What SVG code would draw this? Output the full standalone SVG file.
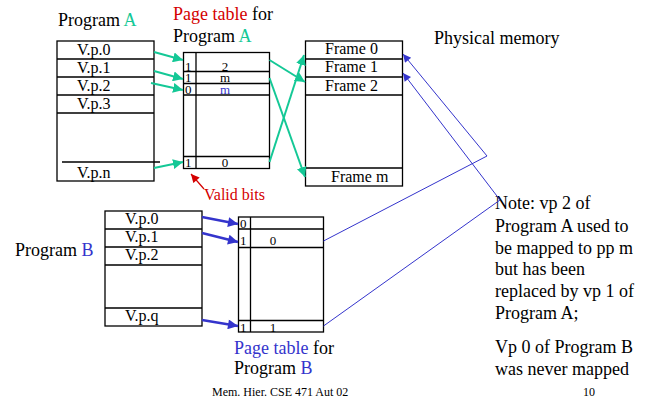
<svg xmlns="http://www.w3.org/2000/svg" width="654" height="402" viewBox="0 0 654 402" font-family="'Liberation Serif', 'DejaVu Serif', serif">
  <style>
    text { font-family: "Liberation Serif", "DejaVu Serif", serif; fill: #000; }
    .lbl { font-size: 18px; }
    .cell { font-size: 16px; }
    .dig { font-size: 13px; }
    .foot { font-size: 12px; }
    .green { fill: #14c896; }
    .red { fill: #d40000; }
    .blue { fill: #3434cc; }
    .box { fill: #fff; stroke: #000; stroke-width: 1.3; }
    .row { stroke: #000; stroke-width: 1.3; fill: none; }
    .ga { stroke: #14c896; stroke-width: 2; fill: none; marker-end: url(#ah-green); }
    .ba { stroke: #3434cc; stroke-width: 2.5; fill: none; marker-end: url(#ah-blue); }
    .bla { stroke: #3434cc; stroke-width: 1; fill: none; marker-end: url(#ah-blue-thin); }
  </style>
  <defs>
    <marker id="ah-green" viewBox="0 0 10 10" refX="10" refY="5" markerWidth="5" markerHeight="5" orient="auto" markerUnits="strokeWidth">
      <path d="M0,0 L10,5 L0,10 z" fill="#14c896"/>
    </marker>
    <marker id="ah-blue" viewBox="0 0 10 10" refX="10" refY="5" markerWidth="4.5" markerHeight="4" orient="auto" markerUnits="strokeWidth">
      <path d="M0,0 L10,5 L0,10 z" fill="#3434cc"/>
    </marker>
    <marker id="ah-blue-thin" viewBox="0 0 10 10" refX="10" refY="5" markerWidth="10" markerHeight="8" orient="auto" markerUnits="strokeWidth">
      <path d="M0,0 L10,5 L0,10 z" fill="#3434cc"/>
    </marker>
    <marker id="ah-red" viewBox="0 0 10 10" refX="10" refY="5" markerWidth="8" markerHeight="7" orient="auto" markerUnits="strokeWidth">
      <path d="M0,0 L10,5 L0,10 z" fill="#d40000"/>
    </marker>
  </defs>

  <!-- Program A virtual pages -->
  <g id="program-a">
    <text class="lbl" x="58" y="26">Program <tspan class="green">A</tspan></text>
    <rect class="box" x="57" y="41" width="97" height="140"/>
    <path class="row" d="M57,59H154 M57,77H154 M57,95H154 M57,113H154 M62,162H160"/>
    <text class="cell" x="77" y="55">V.p.0</text>
    <text class="cell" x="77" y="73">V.p.1</text>
    <text class="cell" x="77" y="91">V.p.2</text>
    <text class="cell" x="77" y="109">V.p.3</text>
    <text class="cell" x="77" y="178">V.p.n</text>
  </g>

  <!-- Page table A -->
  <g id="page-table-a">
    <text class="lbl" x="173" y="20"><tspan class="red">Page table</tspan> for</text>
    <text class="lbl" x="173" y="42">Program <tspan class="green">A</tspan></text>
    <rect class="box" x="183.5" y="52.5" width="86" height="116"/>
    <path class="row" d="M196,52.5V168.5 M183.5,71.5H269.5 M183.5,83.5H269.5 M183.5,95H269.5 M183.5,156.5H269.5"/>
    <text class="dig" x="185" y="70.5">1</text>
    <text class="dig" x="225" y="70.5" text-anchor="middle">2</text>
    <text class="dig" x="185" y="82">1</text>
    <text class="dig" x="225" y="82" text-anchor="middle">m</text>
    <text class="dig" x="185" y="94">0</text>
    <text class="dig blue" x="225" y="94" text-anchor="middle">m</text>
    <text class="dig" x="185" y="167">1</text>
    <text class="dig" x="225" y="167" text-anchor="middle">0</text>
  </g>

  <!-- Valid bits callout -->
  <g id="valid-bits">
    <line x1="204" y1="189" x2="191" y2="174" stroke="#d40000" stroke-width="1.2" marker-end="url(#ah-red)"/>
    <text class="cell red" x="204" y="200">Valid bits</text>
  </g>

  <!-- Physical memory frames -->
  <g id="physical-memory">
    <text class="lbl" x="434" y="44">Physical memory</text>
    <rect class="box" x="305.5" y="41" width="97" height="145"/>
    <path class="row" d="M305.5,59H402.5 M305.5,77H402.5 M305.5,95H402.5 M305.5,168H402.5"/>
    <text class="cell" x="325" y="54">Frame 0</text>
    <text class="cell" x="325" y="72">Frame 1</text>
    <text class="cell" x="325" y="91">Frame 2</text>
    <text class="cell" x="331" y="182">Frame m</text>
  </g>

  <!-- Program B virtual pages -->
  <g id="program-b">
    <text class="lbl" x="15" y="256">Program <tspan class="blue">B</tspan></text>
    <rect class="box" x="105" y="211" width="97" height="115"/>
    <path class="row" d="M105,229H202 M105,247H202 M105,265H202 M105,308H202"/>
    <text class="cell" x="125" y="224">V.p.0</text>
    <text class="cell" x="125" y="242">V.p.1</text>
    <text class="cell" x="125" y="260">V.p.2</text>
    <text class="cell" x="125" y="321">V.p.q</text>
  </g>

  <!-- Page table B -->
  <g id="page-table-b">
    <rect class="box" x="238.5" y="217" width="85" height="115"/>
    <path class="row" d="M250.5,217V332 M238.5,229H323.5 M238.5,247.5H323.5 M238.5,320.5H323.5"/>
    <text class="dig" x="240" y="228">0</text>
    <text class="dig" x="240" y="245">1</text>
    <text class="dig" x="273" y="245" text-anchor="middle">0</text>
    <text class="dig" x="240" y="331.5">1</text>
    <text class="dig" x="273" y="331.5" text-anchor="middle">1</text>
    <text class="lbl" x="234" y="354"><tspan class="blue">Page table</tspan> for</text>
    <text class="lbl" x="234" y="374">Program <tspan class="blue">B</tspan></text>
  </g>

  <!-- Explanatory note -->
  <g id="note">
    <text class="lbl" x="495" y="209">Note: vp 2 of</text>
    <text class="lbl" x="495" y="232">Program A used to</text>
    <text class="lbl" x="495" y="254">be mapped to pp m</text>
    <text class="lbl" x="495" y="275">but has been</text>
    <text class="lbl" x="495" y="297">replaced by vp 1 of</text>
    <text class="lbl" x="495" y="319">Program A;</text>
    <text class="lbl" x="495" y="353">Vp 0 of Program B</text>
    <text class="lbl" x="495" y="375">was never mapped</text>
  </g>

  <!-- Footer -->
  <g id="footer">
    <text class="foot" x="212" y="396">Mem. Hier. CSE 471 Aut 02</text>
    <text class="foot" x="583" y="396">10</text>
  </g>

  <!-- Connectors -->
  <g id="connectors">
    <!-- Program A to page table A -->
    <line class="ga" x1="154" y1="52" x2="183" y2="60"/>
    <line class="ga" x1="154" y1="71" x2="183" y2="79"/>
    <line class="ga" x1="151" y1="83" x2="183" y2="90"/>
    <line class="ga" x1="154" y1="168" x2="183" y2="162"/>
    <!-- page table A to frames -->
    <line class="ga" x1="269.5" y1="60" x2="305" y2="82"/>
    <line class="ga" x1="269.5" y1="78" x2="305" y2="177"/>
    <line class="ga" x1="269.5" y1="162" x2="304" y2="55"/>
    <!-- Program B to page table B -->
    <line class="ba" x1="202" y1="217" x2="238" y2="224"/>
    <line class="ba" x1="202" y1="233" x2="238" y2="242"/>
    <line class="ba" x1="202" y1="320" x2="238" y2="326"/>
    <!-- page table B to frames -->
    <polyline class="bla" points="323.5,241 487,156 403,54"/>
    <polyline class="bla" points="323.5,326 500,200 403,73"/>
  </g>
</svg>
